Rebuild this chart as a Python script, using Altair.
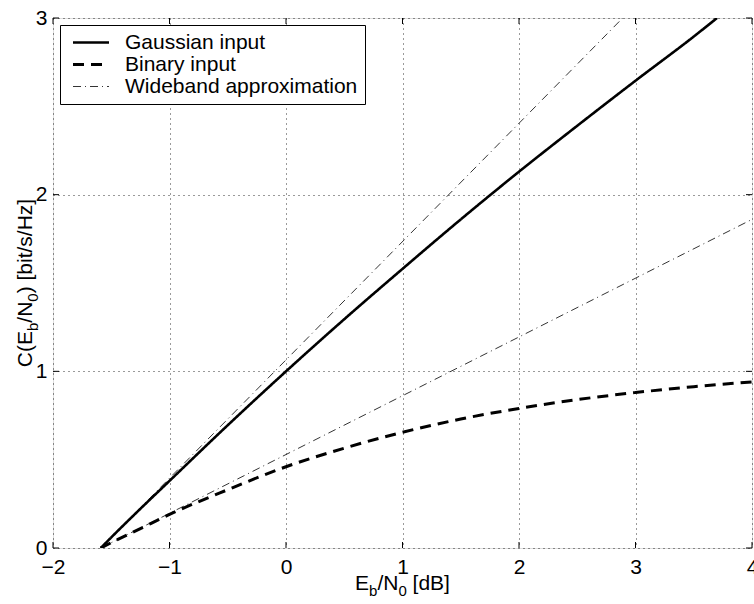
import altair as alt
import pandas as pd

# ---- data ----
gauss_x = [-1.59, -1.5, -1.3, -1.0, -0.5, 0.0, 0.5, 1.0, 1.5, 2.0, 2.5, 3.0, 3.5, 3.7]
gauss_c = [0.0, 0.06, 0.19, 0.38, 0.695, 1.00, 1.295, 1.58, 1.86, 2.13, 2.39, 2.645, 2.895, 3.00]
binary_x = [-1.59, -1.5, -1.25, -1.0, -0.5, 0.0, 0.5, 1.0, 1.5, 2.0, 2.5, 3.0, 3.5, 4.0]
binary_c = [0.0, 0.03, 0.11, 0.19, 0.33, 0.46, 0.565, 0.655, 0.73, 0.79, 0.84, 0.88, 0.913, 0.94]
wb_gauss_x = [-1.59, 2.89]
wb_gauss_c = [0.0, 3.0]
wb_binary_x = [-1.59, 4.0]
wb_binary_c = [0.0, 1.86]
series_names = ["Gaussian input", "Binary input", "Wideband approximation"]
x_ticks = [-2, -1, 0, 1, 2, 3, 4]
y_ticks = [0, 1, 2, 3]

rows = []
for name, curve, xs, cs in [
    (series_names[0], "g", gauss_x, gauss_c),
    (series_names[1], "b", binary_x, binary_c),
    (series_names[2], "wg", wb_gauss_x, wb_gauss_c),
    (series_names[2], "wb", wb_binary_x, wb_binary_c),
]:
    for i, (xv, cv) in enumerate(zip(xs, cs)):
        rows.append({"x": xv, "c": cv, "series": name, "curve": curve, "idx": i})
df = pd.DataFrame(rows)

W, H = 699, 530
FONT = "Liberation Sans"
FS = 21
SUB = 15

xscale = alt.Scale(domain=[-2, 4], nice=False, zero=False)
yscale = alt.Scale(domain=[0, 3], nice=False, zero=False)

leg = alt.Legend(
    title=None, orient="none", legendX=7, legendY=7,
    strokeColor="black", fillColor="white", padding=7,
    symbolType="M-0.5,0H3.5", symbolSize=324, symbolStrokeColor="black",
    symbolFillColor="transparent",
    labelFont=FONT, labelFontSize=FS, labelColor="black", labelLimit=500,
    rowPadding=0, labelOffset=37, cornerRadius=0,
)

grid_kw = dict(grid=True, gridColor="black", gridDash=[1, 4], gridWidth=0.8,
               gridOpacity=1, ticks=False, domain=False, labelFont=FONT,
               labelFontSize=FS, labelColor="black", format="d", title=None,
               labelFlush=False)

lines = alt.Chart(df).mark_line(clip=True, color="black", interpolate="monotone").encode(
    x=alt.X("x:Q", scale=xscale,
            axis=alt.Axis(values=x_ticks, labelPadding=8, **grid_kw)),
    y=alt.Y("c:Q", scale=yscale,
            axis=alt.Axis(values=y_ticks, labelPadding=6, **grid_kw)),
    strokeDash=alt.StrokeDash("series:N",
                              scale=alt.Scale(type="ordinal", domain=series_names,
                                              range=[[1, 0], [11, 7], [8, 4, 1, 4]]),
                              legend=leg),
    strokeWidth=alt.StrokeWidth("series:N",
                                scale=alt.Scale(type="ordinal", domain=series_names,
                                                range=[2.6, 3.0, 0.8]),
                                legend=leg),
    detail="curve:N",
    order="idx:Q",
)

xt = pd.DataFrame({"v": x_ticks})
yt = pd.DataFrame({"v": y_ticks})
tick_b = alt.Chart(xt).mark_rule(color="black", strokeWidth=1).encode(
    x=alt.X("v:Q", scale=xscale), y=alt.value(H), y2=alt.value(H - 6))
tick_t = alt.Chart(xt).mark_rule(color="black", strokeWidth=1).encode(
    x=alt.X("v:Q", scale=xscale), y=alt.value(0), y2=alt.value(6))
tick_l = alt.Chart(yt).mark_rule(color="black", strokeWidth=1).encode(
    y=alt.Y("v:Q", scale=yscale), x=alt.value(0), x2=alt.value(6))
tick_r = alt.Chart(yt).mark_rule(color="black", strokeWidth=1).encode(
    y=alt.Y("v:Q", scale=yscale), x=alt.value(W), x2=alt.value(W - 6))


def piece(text, x, y, dx, dy, size, angle=0):
    return alt.Chart(pd.DataFrame({"t": [text]})).mark_text(
        font=FONT, fontSize=size, color="black", align="left",
        baseline="alphabetic", angle=angle, dx=dx, dy=dy,
    ).encode(text="t:N", x=alt.value(x), y=alt.value(y))


def width(s, size):
    m = {"E": 667, "b": 556, "/": 278, "N": 722, "0": 556, " ": 278,
         "[": 278, "d": 556, "B": 667, "]": 278, "C": 722, "(": 333, ")": 333,
         "i": 222, "t": 278, "s": 500, "H": 722, "z": 500}
    return sum(m[ch] for ch in s) * size / 1000.0


def title_pieces(parts, x, y, angle):
    # parts: (text, is_subscript, leading_gap_in_spaces)
    out = []
    pos = 0.0
    for text, sub, gap in parts:
        size = SUB if sub else FS
        pos += gap * 0.278 * FS
        out.append(piece(text, x, y, pos, 6 if sub else 0, size, angle))
        pos += width(text, size)
    return out, pos


xparts = [("E", False, 0), ("b", True, 0), ("/N", False, 0), ("0", True, 0), ("[dB]", False, 1)]
_, xw = title_pieces(xparts, 0, 0, 0)
xtitle, _ = title_pieces(xparts, W / 2 - xw / 2, H + 42, 0)

yparts = [("C(E", False, 0), ("b", True, 0), ("/N", False, 0), ("0", True, 0),
          (")", False, 0), ("[bit/s/Hz]", False, 1)]
_, yw = title_pieces(yparts, 0, 0, 270)
ytitle, _ = title_pieces(yparts, -21, H / 2 + yw / 2, 270)

chart = alt.layer(
    lines, tick_b, tick_t, tick_l, tick_r, *xtitle, *ytitle
).properties(
    width=W, height=H,
    padding={"left": 53, "top": 18, "right": 2, "bottom": 56},
    autosize=alt.AutoSizeParams(type="none"),
).configure_view(
    stroke="black", strokeWidth=1
).configure(background="white")

chart.save("out.html", embed_options={"renderer": "svg", "actions": False})
